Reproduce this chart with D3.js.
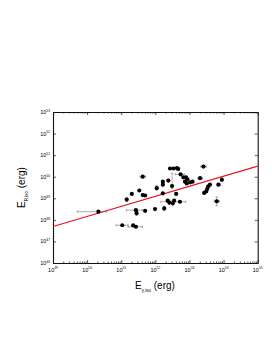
<!DOCTYPE html>
<html lang="en">
	<head>
		<meta charset="utf-8">
		<title>E_R,iso vs E_gamma,iso</title>
		<script type="text/javascript" src="https://cdn.jsdelivr.net/npm/d3@7"></script>
		<style>
			body { margin: 0; background: #fff; }
			text { font-family: "Liberation Sans", Arial, sans-serif; fill: #000; }
			.axis path, .axis line { stroke: #111; }
		</style>
	</head>
	<body>
		<script type="text/javascript">
			// log10 of the energies
			var logEgamma = [50.33, 51.03, 51.35, 51.43, 51.16, 51.31, 51.53, 51.63, 51.63, 51.70,
				51.43, 51.45, 51.70, 51.99, 52.04, 52.26, 52.22, 52.22, 52.38, 52.49,
				52.22, 52.43, 52.53, 52.63, 52.67, 52.74, 52.82, 52.90, 52.94, 52.87,
				52.92, 53.02, 53.09, 52.61, 53.31, 53.41, 52.36, 52.41, 52.55, 52.51,
				52.72, 53.43, 53.49, 53.52, 53.55, 53.60, 53.85, 53.95, 53.80];
			var logEr = [48.38, 47.75, 47.74, 47.68, 48.94, 49.20, 49.36, 50.00, 49.15, 49.13,
				48.45, 48.31, 48.42, 48.50, 49.47, 48.53, 49.77, 49.63, 49.82, 49.57,
				49.23, 50.38, 50.38, 50.40, 50.36, 50.11, 49.97, 49.97, 49.88, 49.77,
				49.69, 49.74, 49.77, 49.20, 49.93, 50.47, 48.89, 48.80, 48.89, 48.77,
				48.84, 49.25, 49.32, 49.43, 49.55, 49.63, 49.63, 49.86, 48.86];
			// error bars (log10 of lower / upper end), null = none drawn
			var xErrLo = [49.71, 50.85, null, 51.20, null, null, null, 51.55, null, null,
				51.15, null, null, null, null, null, null, null, null, null,
				null, null, null, null, null, 52.58, null, null, null, null,
				null, null, null, null, 53.25, 53.33, null, null, null, null,
				52.16, null, null, null, null, null, 53.80, null, 53.72];
			var xErrHi = [50.57, 51.20, null, 51.62, null, null, null, 51.72, null, null,
				51.62, null, null, null, null, null, null, null, null, null,
				null, null, null, null, null, 52.85, null, null, null, null,
				null, null, null, null, 53.38, 53.50, null, null, null, null,
				52.89, null, null, null, null, null, 53.92, null, 53.88];
			var yErrLo = [null, null, null, null, 48.84, null, null, null, null, null,
				null, 48.20, null, null, 49.38, 48.42, null, null, null, 49.45,
				null, null, null, null, null, null, null, null, null, null,
				null, null, null, null, null, null, null, 48.70, null, 48.65,
				null, null, null, null, null, null, null, 49.78, 48.65];
			var yErrHi = [null, null, null, null, 49.05, null, null, null, null, null,
				null, 48.45, null, null, 49.60, 48.63, null, null, null, 50.15,
				null, null, null, null, null, null, null, null, null, null,
				null, null, null, null, null, null, null, 48.92, null, 48.90,
				null, null, null, null, null, null, null, 49.98, 49.06];
			// best fit line end points (log10)
			var fitLogX = [49, 55];
			var fitLogY = [47.69, 50.49];
			var xTickExp = [49, 50, 51, 52, 53, 54, 55];
			var yTickExp = [46, 47, 48, 49, 50, 51, 52, 53];

			var w = 272, h = 352;
			var plotL = 53, plotR = 257.7, plotT = 112, plotB = 263;

			var xScale = d3.scaleLog().domain([1e49, 1e55]).range([plotL, plotR]);
			var yScale = d3.scaleLog().domain([1e46, 1e53]).range([plotB, plotT]);

			var svg = d3.select("body").append("svg")
				.attr("width", w)
				.attr("height", h);

			var pow = function(e){ return Math.pow(10, e); };

			// minor ticks for x (2..9 per decade)
			var xMinor = [];
			for (var e = 49; e < 55; e++) {
				for (var m = 2; m <= 9; m++) xMinor.push(m * pow(e));
			}

			//Bottom axis
			svg.append("g").attr("class", "axis")
				.attr("transform", "translate(0," + plotB + ")")
				.call(d3.axisBottom(xScale).tickValues(xMinor).tickSize(-1.5).tickSizeOuter(0).tickFormat(""));
			svg.append("g").attr("class", "axis")
				.attr("transform", "translate(0," + plotB + ")")
				.call(d3.axisBottom(xScale).tickValues(xTickExp.map(pow)).tickSize(-3).tickSizeOuter(0).tickFormat(""));
			//Top axis
			svg.append("g").attr("class", "axis")
				.attr("transform", "translate(0," + plotT + ")")
				.call(d3.axisTop(xScale).tickValues(xMinor).tickSize(-1.5).tickSizeOuter(0).tickFormat(""));
			svg.append("g").attr("class", "axis")
				.attr("transform", "translate(0," + plotT + ")")
				.call(d3.axisTop(xScale).tickValues(xTickExp.map(pow)).tickSize(-3).tickSizeOuter(0).tickFormat(""));
			//Left / right axis
			svg.append("g").attr("class", "axis")
				.attr("transform", "translate(" + plotL + ",0)")
				.call(d3.axisLeft(yScale).tickValues(yTickExp.map(pow)).tickSize(-3).tickSizeOuter(0).tickFormat(""));
			svg.append("g").attr("class", "axis")
				.attr("transform", "translate(" + plotR + ",0)")
				.call(d3.axisRight(yScale).tickValues(yTickExp.map(pow)).tickSize(-3).tickSizeOuter(0).tickFormat(""));
			svg.selectAll(".axis path").attr("stroke-width", 1.1);
			svg.selectAll(".axis line").attr("stroke-width", 0.7);

			// tick labels 10^n
			var xl = svg.append("g").selectAll("text").data(xTickExp).enter().append("text")
				.attr("x", function(d){ return xScale(pow(d)); })
				.attr("y", plotB + 8.5)
				.attr("text-anchor", "middle")
				.attr("font-size", "5.5px");
			xl.append("tspan").text("10");
			xl.append("tspan").attr("dy", -2.2).attr("font-size", "3.3px").text(function(d){ return d; });

			var yl = svg.append("g").selectAll("text").data(yTickExp).enter().append("text")
				.attr("x", plotL - 3)
				.attr("y", function(d){ return yScale(pow(d)) + 2; })
				.attr("text-anchor", "end")
				.attr("font-size", "5.5px");
			yl.append("tspan").text("10");
			yl.append("tspan").attr("dy", -2.2).attr("font-size", "3.3px").text(function(d){ return d; });

			// axis titles
			var xt = svg.append("text")
				.attr("x", 155)
				.attr("y", 289)
				.attr("text-anchor", "middle")
				.attr("font-size", "10px");
			xt.append("tspan").text("E");
			xt.append("tspan").attr("dy", 2.5).attr("font-size", "4.5px").text("\u03b3,iso");
			xt.append("tspan").attr("dy", -2.5).text(" (erg)");

			var yt = svg.append("text")
				.attr("transform", "translate(25," + ((plotT + plotB) / 2) + ") rotate(-90)")
				.attr("text-anchor", "middle")
				.attr("font-size", "10px");
			yt.append("tspan").text("E");
			yt.append("tspan").attr("dy", 2.5).attr("font-size", "4.5px").text("R,iso");
			yt.append("tspan").attr("dy", -2.5).text(" (erg)");

			// error bars
			var idx = d3.range(logEgamma.length);
			var errG = svg.append("g").attr("stroke", "#777").attr("stroke-width", 0.6);
			idx.forEach(function(i){
				var cx = xScale(pow(logEgamma[i])), cy = yScale(pow(logEr[i]));
				if (xErrLo[i] != null) {
					var x0 = xScale(pow(xErrLo[i])), x1 = xScale(pow(xErrHi[i]));
					errG.append("line").attr("x1", x0).attr("x2", x1).attr("y1", cy).attr("y2", cy);
					errG.append("line").attr("x1", x0).attr("x2", x0).attr("y1", cy - 1.2).attr("y2", cy + 1.2);
					errG.append("line").attr("x1", x1).attr("x2", x1).attr("y1", cy - 1.2).attr("y2", cy + 1.2);
				}
				if (yErrLo[i] != null) {
					var y0 = yScale(pow(yErrLo[i])), y1 = yScale(pow(yErrHi[i]));
					errG.append("line").attr("x1", cx).attr("x2", cx).attr("y1", y0).attr("y2", y1);
					errG.append("line").attr("x1", cx - 1.2).attr("x2", cx + 1.2).attr("y1", y0).attr("y2", y0);
					errG.append("line").attr("x1", cx - 1.2).attr("x2", cx + 1.2).attr("y1", y1).attr("y2", y1);
				}
			});

			// fit line
			var line = d3.line()
				.x(function(d){ return xScale(pow(d[0])); })
				.y(function(d){ return yScale(pow(d[1])); });
			svg.append("path")
				.attr("d", line(d3.zip(fitLogX, fitLogY)))
				.attr("stroke", "#e8141b")
				.attr("stroke-width", 1.1)
				.attr("fill", "none");

			// points
			svg.append("g").selectAll("circle")
				.data(idx)
				.enter()
				.append("circle")
				.attr("cx", function(i){ return xScale(pow(logEgamma[i])); })
				.attr("cy", function(i){ return yScale(pow(logEr[i])); })
				.attr("r", 2.1)
				.attr("fill", "#000");
		</script>
	</body>
</html>
